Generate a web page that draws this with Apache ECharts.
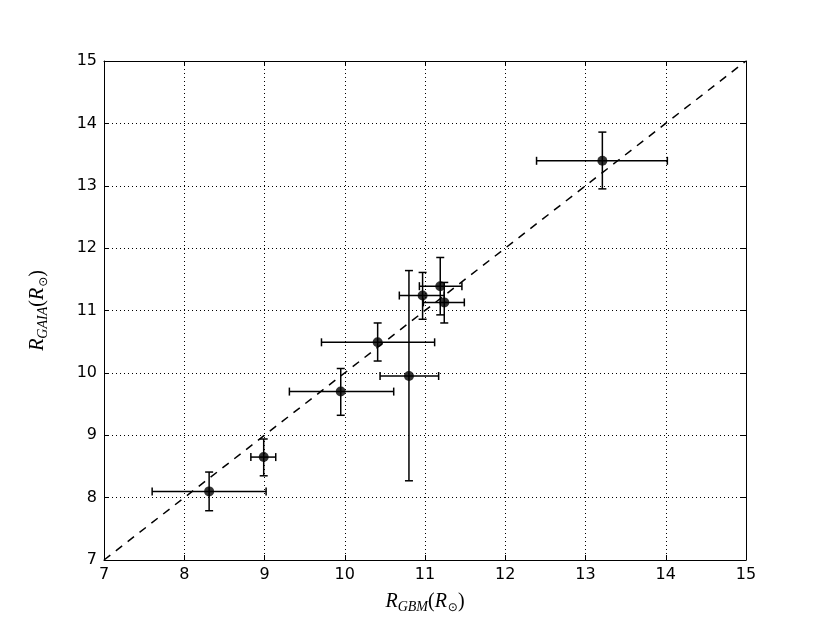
<!DOCTYPE html>
<html>
<head>
<meta charset="utf-8">
<script src="https://cdn.jsdelivr.net/npm/echarts@6/dist/echarts.min.js"></script>
<style>
  html, body { margin: 0; padding: 0; background: #fff; }
  #chart { width: 830px; height: 623px; }
</style>
</head>
<body>
<div id="chart"></div>
<script>
// radii from GBM (x) and GAIA (y), with error bar bounds
const gbm      = [8.31, 8.99, 9.95, 10.41, 10.80, 10.97, 11.19, 11.24, 13.21];
const gbmLow   = [7.60, 8.83, 9.31, 9.71, 10.44, 10.68, 10.93, 10.98, 12.39];
const gbmHigh  = [9.02, 9.14, 10.61, 11.12, 11.17, 11.24, 11.46, 11.49, 14.02];
const gaia     = [8.10, 8.65, 9.70, 10.49, 9.95, 11.24, 11.39, 11.13, 13.40];
const gaiaLow  = [7.79, 8.35, 9.32, 10.19, 8.27, 10.86, 10.93, 10.80, 12.95];
const gaiaHigh = [8.41, 8.94, 10.07, 10.80, 11.64, 11.61, 11.85, 11.45, 13.86];
const identityLine = [[7, 7], [15, 15]];

const axisMin = 7, axisMax = 15, axisStep = 1;

const chart = echarts.init(document.getElementById('chart'));

const points = gbm.map((x, i) => [x, gaia[i]]);
const errData = gbm.map((x, i) => [x, gaia[i], gbmLow[i], gbmHigh[i], gaiaLow[i], gaiaHigh[i]]);

const lineStyle = { stroke: '#000', lineWidth: 1.5 };
function renderErr(params, api) {
  const c = api.coord([api.value(0), api.value(1)]);
  const xl = api.coord([api.value(2), api.value(1)])[0];
  const xh = api.coord([api.value(3), api.value(1)])[0];
  const yl = api.coord([api.value(0), api.value(4)])[1];
  const yh = api.coord([api.value(0), api.value(5)])[1];
  const cap = 4;
  const seg = (x1, y1, x2, y2) => ({ type: 'line', shape: { x1, y1, x2, y2 }, style: lineStyle });
  return {
    type: 'group',
    children: [
      seg(xl, c[1], xh, c[1]),
      seg(c[0], yl, c[0], yh),
      seg(xl, c[1] - cap, xl, c[1] + cap),
      seg(xh, c[1] - cap, xh, c[1] + cap),
      seg(c[0] - cap, yl, c[0] + cap, yl),
      seg(c[0] - cap, yh, c[0] + cap, yh)
    ]
  };
}

const mathRich = {
  i: { fontFamily: 'Liberation Serif', fontStyle: 'italic', fontSize: 20, color: '#000', lineHeight: 24 },
  p: { fontFamily: 'Liberation Serif', fontSize: 20, color: '#000', lineHeight: 24 },
  sub: { fontFamily: 'Liberation Serif', fontStyle: 'italic', fontSize: 14, color: '#000', lineHeight: 14, padding: [10, 0, 0, 0] },
  dot: { fontFamily: 'DejaVu Sans', fontSize: 12, color: '#000', lineHeight: 12, padding: [12, 0, 0, 1] }
};

function baseAxis(extra) {
  return Object.assign({
    type: 'value',
    min: axisMin,
    max: axisMax,
    interval: axisStep,
    axisLine: { show: true, onZero: false, lineStyle: { color: '#000', width: 1 } },
    axisTick: { show: true, inside: true, length: 5, lineStyle: { color: '#000', width: 1 } },
    axisLabel: { show: false },
    splitLine: { show: false }
  }, extra);
}

chart.setOption({
  animation: false,
  backgroundColor: '#fff',
  grid: { left: 104, right: 84, top: 61, bottom: 63, outerBoundsMode: 'none' },
  xAxis: [
    baseAxis({
      position: 'bottom',
      axisLabel: { show: true, color: '#000', fontFamily: 'DejaVu Sans', fontSize: 16, margin: 7 },
      splitLine: { show: true, lineStyle: { color: '#000', width: 1, type: [1, 3] } },
      name: '{i|R}{sub|GBM}{p|(}{i|R}{dot|⊙}{p|)}',
      nameLocation: 'middle',
      nameGap: 30,
      nameTextStyle: { rich: mathRich }
    }),
    baseAxis({ position: 'top' })
  ],
  yAxis: [
    baseAxis({
      position: 'left',
      axisLabel: { show: true, color: '#000', fontFamily: 'DejaVu Sans', fontSize: 16, margin: 7 },
      splitLine: { show: true, lineStyle: { color: '#000', width: 1, type: [1, 3] } },
      name: '{i|R}{sub|GAIA}{p|(}{i|R}{dot|⊙}{p|)}',
      nameLocation: 'middle',
      nameGap: 54,
      nameRotate: 90,
      nameTextStyle: { rich: mathRich }
    }),
    baseAxis({ position: 'right' })
  ],
  series: [
    {
      type: 'line',
      data: identityLine,
      showSymbol: false,
      silent: true,
      lineStyle: { color: '#000', width: 1.5, type: [8, 7] }
    },
    {
      type: 'custom',
      data: errData,
      renderItem: renderErr,
      z: 3
    },
    {
      type: 'scatter',
      data: points,
      symbol: 'circle',
      symbolSize: 10,
      itemStyle: { color: '#000' },
      z: 4
    }
  ]
});
</script>
</body>
</html>
